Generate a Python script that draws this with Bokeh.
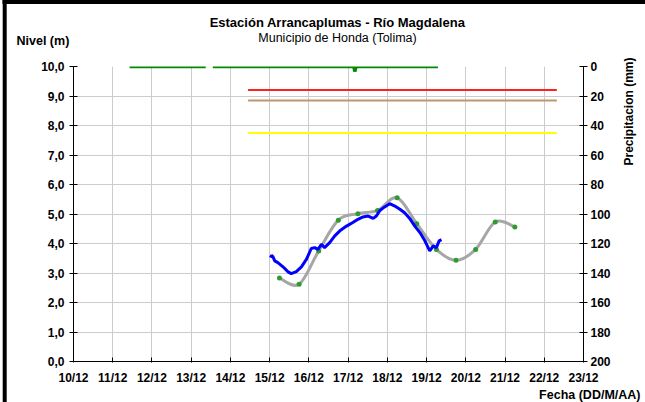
import math
from bokeh.plotting import figure
from bokeh.models import Range1d, LinearAxis, FixedTicker, Label
from bokeh.embed import file_html
from bokeh.resources import INLINE

# ---------------- data ----------------
x_ticks = [10, 11, 12, 13, 14, 15, 16, 17, 18, 19, 20, 21, 22, 23]
x_tick_labels = ["10/12", "11/12", "12/12", "13/12", "14/12", "15/12", "16/12",
                 "17/12", "18/12", "19/12", "20/12", "21/12", "22/12", "23/12"]
y_ticks = [0, 1, 2, 3, 4, 5, 6, 7, 8, 9, 10]
y_tick_labels = ["0,0", "1,0", "2,0", "3,0", "4,0", "5,0", "6,0", "7,0", "8,0", "9,0", "10,0"]
precip_ticks = [0, 20, 40, 60, 80, 100, 120, 140, 160, 180, 200]

# observed level (blue)
blue_time = [15.02, 15.05, 15.08, 15.13, 15.21, 15.34, 15.47, 15.55, 15.68, 15.81, 15.94,
             16.06, 16.15, 16.23, 16.32, 16.40, 16.53, 16.66, 16.79, 16.96, 17.12,
             17.25, 17.38, 17.51, 17.64, 17.72, 17.81, 17.93, 18.06, 18.19, 18.32,
             18.44, 18.57, 18.70, 18.83, 18.95, 19.04, 19.08, 19.17, 19.25, 19.32, 19.38]
blue_level = [3.52, 3.60, 3.56, 3.41, 3.35, 3.21, 3.04, 2.98, 3.05, 3.21, 3.47,
              3.83, 3.86, 3.80, 3.97, 3.86, 4.03, 4.26, 4.43, 4.59, 4.71,
              4.82, 4.90, 4.93, 4.85, 4.93, 5.12, 5.24, 5.35, 5.27, 5.16,
              5.04, 4.85, 4.59, 4.37, 4.11, 3.86, 3.75, 3.92, 3.86, 4.09, 4.13]

# forecast points (green dots on gray smooth line)
fc_time = [15.25, 15.75, 16.25, 16.75, 17.25, 17.75, 18.25, 18.75, 19.25, 19.75, 20.25, 20.75, 21.25]
fc_level = [2.83, 2.62, 3.75, 4.79, 5.01, 5.12, 5.55, 4.67, 3.80, 3.43, 3.80, 4.73, 4.56]

# threshold lines
thr_level = [9.20, 8.85, 7.75]
thr_start = 14.45
thr_end = 22.32

# precipitation (mm), NaN breaks the line
precip_time = [11.43, 13.37, float("nan"), 13.55, 17.15, 17.17, 17.20, 19.29]
precip_mm = [0, 0, float("nan"), 0, 0, 3.4, 0, 0]

# ---------------- figure ----------------
FONT = "Liberation Sans"

p = figure(width=645, height=402, x_range=Range1d(10, 23), y_range=Range1d(0, 10),
           output_backend="svg", toolbar_location=None,
           min_border_left=73, min_border_right=62, min_border_top=66, min_border_bottom=41)
p.outline_line_color = None
p.background_fill_color = "white"
p.border_fill_color = "white"

p.extra_y_ranges = {"precip": Range1d(200, 0)}

# axes styling
p.xaxis.ticker = FixedTicker(ticks=x_ticks)
p.xaxis.major_label_overrides = {t: l for t, l in zip(x_ticks, x_tick_labels)}
p.yaxis.ticker = FixedTicker(ticks=y_ticks)
p.yaxis.major_label_overrides = {t: l for t, l in zip(y_ticks, y_tick_labels)}

rax = LinearAxis(y_range_name="precip", ticker=FixedTicker(ticks=precip_ticks))
p.add_layout(rax, "right")

for ax in [p.xaxis[0], p.yaxis[0], rax]:
    ax.axis_line_color = "black"
    ax.axis_line_width = 1
    ax.major_tick_line_color = "black"
    ax.minor_tick_line_color = None
    ax.major_label_text_font = FONT
    ax.major_label_text_font_style = "bold"
    ax.major_label_text_font_size = "12px"
    ax.major_label_text_color = "black"

p.xaxis.major_tick_in = 4
p.xaxis.major_tick_out = 1
p.xaxis.major_label_standoff = 8
p.yaxis.major_tick_in = 4
p.yaxis.major_tick_out = 4
p.yaxis.major_label_standoff = 5
rax.major_tick_in = 4
rax.major_tick_out = 4
rax.major_label_standoff = 3

p.xgrid.grid_line_color = "#cccccc"
p.ygrid.grid_line_color = "#cccccc"
p.xgrid.grid_line_width = 1
p.ygrid.grid_line_width = 1

# threshold lines
thr_colors = ["#ff2020", "#bf9672", "#ffff00"]
p.segment(x0=[thr_start] * 3, y0=thr_level, x1=[thr_end] * 3, y1=thr_level,
          line_color=thr_colors, line_width=2)

# smooth gray line through forecast points (Catmull-Rom style bezier)
n = len(fc_time)
x0, y0, x1, y1, cx0, cy0, cx1, cy1 = [], [], [], [], [], [], [], []
for i in range(n - 1):
    im1 = max(i - 1, 0)
    ip2 = min(i + 2, n - 1)
    x0.append(fc_time[i]); y0.append(fc_level[i])
    x1.append(fc_time[i + 1]); y1.append(fc_level[i + 1])
    cx0.append(fc_time[i] + (fc_time[i + 1] - fc_time[im1]) / 6.0)
    cy0.append(fc_level[i] + (fc_level[i + 1] - fc_level[im1]) / 6.0)
    cx1.append(fc_time[i + 1] - (fc_time[ip2] - fc_time[i]) / 6.0)
    cy1.append(fc_level[i + 1] - (fc_level[ip2] - fc_level[i]) / 6.0)
p.bezier(x0=x0, y0=y0, x1=x1, y1=y1, cx0=cx0, cy0=cy0, cx1=cx1, cy1=cy1,
         line_color="#a6a6a6", line_width=3)
p.scatter(fc_time, fc_level, size=5, color="#2f9a2f", line_color=None)

# observed level
p.line(blue_time, blue_level, line_color="#0000ff", line_width=3)

# precipitation
p.line(precip_time, precip_mm, y_range_name="precip", line_color="#008a00", line_width=3.5)

# ---------------- texts (placed in side panels so they are not clipped) ----------------
def dx(px):
    return 10 + (px - 73) / (510 / 13)

def dy(py):
    return (361 - py) / 29.5

def add_label(x, y, text, size, place, bold=True, align="center", angle=0.0):
    p.add_layout(Label(x=dx(x), y=dy(y), text=text, angle=angle,
                       text_align=align, text_baseline="middle",
                       text_font=FONT, text_font_style="bold" if bold else "normal",
                       text_font_size=size, text_color="black"), place)

add_label(337, 22, "Estación Arrancaplumas - Río Magdalena", "13px", "above")
add_label(337, 37, "Municipio de Honda (Tolima)", "12.5px", "above", bold=False)
add_label(16, 40, "Nivel (m)", "12.5px", "above", align="left")
add_label(640, 394, "Fecha (DD/M/AA)", "12.5px", "below", align="right")
add_label(628, 111, "Precipitacion (mm)", "12px", "right", angle=math.pi / 2)

# outer black frame of the chart picture (top and left edges), drawn as filled label boxes
p.add_layout(Label(x=dx(2), y=dy(1.5), text=" " * 720, text_align="left",
                   text_baseline="middle", text_font=FONT, text_font_size="3.5px",
                   text_color="black", background_fill_color="black",
                   background_fill_alpha=1.0), "above")
p.add_layout(Label(x=dx(4.2), y=dy(201), text=" " * 440, angle=math.pi / 2,
                   text_align="center", text_baseline="middle", text_font=FONT,
                   text_font_size="3.5px", text_color="black",
                   background_fill_color="black", background_fill_alpha=1.0), "left")

open("out.html", "w").write(file_html(p, INLINE))
